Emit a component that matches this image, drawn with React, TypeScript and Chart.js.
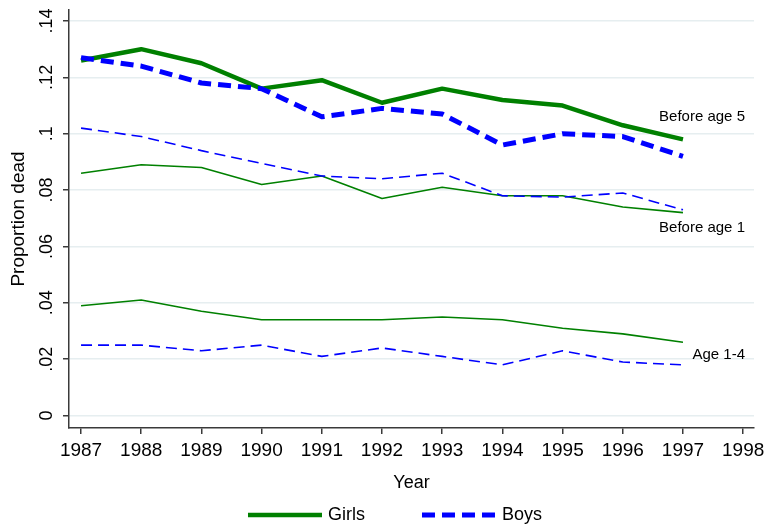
import React, { useEffect, useRef } from 'react';
import { Chart, registerables } from 'chart.js';

Chart.register(...registerables);

// ---- Data ----
const years = [1987, 1988, 1989, 1990, 1991, 1992, 1993, 1994, 1995, 1996, 1997];
const xTickYears = [1987, 1988, 1989, 1990, 1991, 1992, 1993, 1994, 1995, 1996, 1997, 1998];
const yTickValues = [0, 0.02, 0.04, 0.06, 0.08, 0.1, 0.12, 0.14];
const yTickLabels = ['0', '.02', '.04', '.06', '.08', '.1', '.12', '.14'];

const girlsBefore5 = [0.126, 0.130, 0.125, 0.116, 0.119, 0.111, 0.116, 0.112, 0.110, 0.103, 0.098];
const boysBefore5 = [0.127, 0.124, 0.118, 0.116, 0.106, 0.109, 0.107, 0.096, 0.100, 0.099, 0.092];
const girlsBefore1 = [0.086, 0.089, 0.088, 0.082, 0.085, 0.077, 0.081, 0.078, 0.078, 0.074, 0.072];
const boysBefore1 = [0.102, 0.099, 0.094, 0.0895, 0.085, 0.084, 0.086, 0.078, 0.0775, 0.079, 0.073];
const girls1to4 = [0.039, 0.041, 0.037, 0.034, 0.034, 0.034, 0.035, 0.034, 0.031, 0.029, 0.026];
const boys1to4 = [0.025, 0.025, 0.023, 0.025, 0.021, 0.024, 0.021, 0.018, 0.023, 0.019, 0.018];

const legendLabels = ['Girls', 'Boys'];
const annotationTexts = ['Before age 5', 'Before age 1', 'Age 1-4'];
const annotationX = [1998.03, 1998.03, 1998.03];
const annotationY = [0.1059, 0.0666, 0.0215];

const GREEN = '#008000';
const BLUE = '#0000ff';
const AXIS = '#3a3a3a';
const FONT = "'Liberation Sans', Arial, Helvetica, sans-serif";

const toPoints = (vals: number[]) => vals.map((v, i) => ({ x: years[i], y: v }));

const annotationPlugin = {
  id: 'annotations',
  afterDatasetsDraw(chart: any) {
    const { ctx, scales } = chart;
    ctx.save();
    ctx.font = `15px ${FONT}`;
    ctx.fillStyle = '#000';
    ctx.textAlign = 'right';
    ctx.textBaseline = 'middle';
    annotationTexts.forEach((t, i) => {
      ctx.fillText(t, scales.x.getPixelForValue(annotationX[i]), scales.y.getPixelForValue(annotationY[i]));
    });
    ctx.restore();
  },
};

const legendPlugin = {
  id: 'bottomLegend',
  afterDraw(chart: any) {
    const { ctx } = chart;
    const items = chart.data.datasets.filter((d: any) => legendLabels.includes(d.label));
    items.sort((a: any, b: any) => legendLabels.indexOf(a.label) - legendLabels.indexOf(b.label));
    const lineLen = 74;
    const gapText = 6;
    const gapItem = 57;
    ctx.save();
    ctx.font = `18px ${FONT}`;
    const widths = items.map((d: any) => ctx.measureText(d.label).width);
    let total = 0;
    items.forEach((_: any, i: number) => {
      total += lineLen + gapText + widths[i];
      if (i < items.length - 1) total += gapItem;
    });
    let x = 395 - total / 2;
    const y = chart.height - 12;
    items.forEach((d: any, i: number) => {
      ctx.beginPath();
      ctx.strokeStyle = d.borderColor;
      ctx.lineWidth = d.borderWidth;
      ctx.setLineDash(d.borderDash || []);
      ctx.lineCap = 'butt';
      ctx.moveTo(x, y);
      ctx.lineTo(x + lineLen, y);
      ctx.stroke();
      ctx.setLineDash([]);
      ctx.fillStyle = '#000';
      ctx.textAlign = 'left';
      ctx.textBaseline = 'middle';
      ctx.fillText(d.label, x + lineLen + gapText, y);
      x += lineLen + gapText + widths[i] + gapItem;
    });
    ctx.restore();
  },
};

export default function App() {
  const canvasRef = useRef<HTMLCanvasElement | null>(null);

  useEffect(() => {
    if (!canvasRef.current) return;
    document.body.style.margin = '0';
    const chart = new Chart(canvasRef.current, {
      type: 'line',
      data: {
        datasets: [
          { label: 'Boys', data: toPoints(boysBefore5), borderColor: BLUE, borderWidth: 5, borderDash: [13, 7], order: 0 },
          { label: 'Girls', data: toPoints(girlsBefore5), borderColor: GREEN, borderWidth: 4.5, order: 1 },
          { label: 'Boys before age 1', data: toPoints(boysBefore1), borderColor: BLUE, borderWidth: 1.6, borderDash: [11, 6], order: 2 },
          { label: 'Girls before age 1', data: toPoints(girlsBefore1), borderColor: GREEN, borderWidth: 1.6, order: 3 },
          { label: 'Boys age 1-4', data: toPoints(boys1to4), borderColor: BLUE, borderWidth: 1.6, borderDash: [11, 6], order: 4 },
          { label: 'Girls age 1-4', data: toPoints(girls1to4), borderColor: GREEN, borderWidth: 1.6, order: 5 },
        ].map((d) => ({ ...d, pointRadius: 0, tension: 0, fill: false, borderJoinStyle: 'round' as const, borderCapStyle: 'butt' as const })),
      },
      options: {
        responsive: false,
        animation: false,
        layout: { padding: { top: 10, right: 15, bottom: 32, left: 0 } },
        plugins: { legend: { display: false }, tooltip: { enabled: false } },
        scales: {
          x: {
            type: 'linear',
            min: 1986.8,
            max: 1998.18,
            afterBuildTicks: (s: any) => { s.ticks = xTickYears.map((v) => ({ value: v })); },
            afterFit: (s: any) => { s.height = 67; s.paddingLeft = 0; s.paddingRight = 0; },
            ticks: {
              autoSkip: false,
              maxRotation: 0,
              minRotation: 0,
              padding: 5,
              color: '#000',
              font: { family: FONT, size: 19 },
              callback: (v: any) => String(v),
            },
            grid: { drawOnChartArea: false, drawTicks: true, tickLength: 6, tickColor: AXIS, lineWidth: 1.5 },
            border: { display: true, color: AXIS, width: 1.5 },
            title: { display: true, text: 'Year', color: '#000', font: { family: FONT, size: 18 }, padding: { top: 0, bottom: 1 } },
          },
          y: {
            type: 'linear',
            min: -0.0044,
            max: 0.1439,
            afterBuildTicks: (s: any) => { s.ticks = yTickValues.map((v) => ({ value: v })); },
            afterFit: (s: any) => { s.width = 69; s.paddingTop = 0; s.paddingBottom = 0; },
            ticks: {
              minRotation: 90,
              maxRotation: 90,
              crossAlign: 'center',
              padding: 3,
              color: '#000',
              font: { family: FONT, size: 18 },
              callback: (v: any) => yTickLabels[yTickValues.indexOf(v)] ?? '',
            },
            grid: { color: '#e6eef0', lineWidth: 1.5, drawTicks: true, tickLength: 6, tickColor: AXIS },
            border: { display: true, color: AXIS, width: 1.5 },
            title: { display: true, text: 'Proportion dead', color: '#000', font: { family: FONT, size: 19 }, padding: { top: 7, bottom: 0 } },
          },
        },
      },
      plugins: [annotationPlugin, legendPlugin],
    } as any);
    return () => chart.destroy();
  }, []);

  return (
    <div style={{ width: 769, height: 527 }}>
      <canvas ref={canvasRef} width={769} height={527} style={{ display: 'block' }} />
    </div>
  );
}
